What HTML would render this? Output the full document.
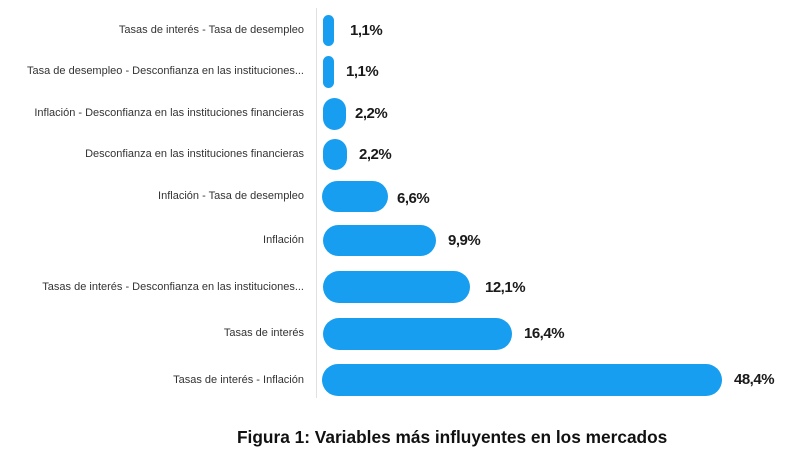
<!DOCTYPE html>
<html><head><meta charset="utf-8"><style>
body{margin:0;width:797px;height:462px;background:#fff;position:relative;overflow:hidden;font-family:"Liberation Sans",sans-serif}
.l{position:absolute;right:493px;font-size:11px;color:#333;white-space:nowrap;line-height:14px}
.b{position:absolute;background:#189ef0;border-radius:16px;height:32px}
.v{position:absolute;font-size:15px;font-weight:bold;color:#1a1a1a;line-height:18px;letter-spacing:-0.5px}
.ax{position:absolute;left:316px;top:8px;width:1px;height:390px;background:#e0e0e0}
.cap{position:absolute;left:237px;top:427px;font-size:17.3px;font-weight:bold;color:#111;white-space:nowrap}
</style></head><body>
<div class="ax"></div>
<div class="l" style="top:23px">Tasas de interés - Tasa de desempleo</div>
<div class="l" style="top:64px">Tasa de desempleo - Desconfianza en las instituciones...</div>
<div class="l" style="top:106px">Inflación - Desconfianza en las instituciones financieras</div>
<div class="l" style="top:147px">Desconfianza en las instituciones financieras</div>
<div class="l" style="top:189px">Inflación - Tasa de desempleo</div>
<div class="l" style="top:233px">Inflación</div>
<div class="l" style="top:280px">Tasas de interés - Desconfianza en las instituciones...</div>
<div class="l" style="top:326px">Tasas de interés</div>
<div class="l" style="top:373px">Tasas de interés - Inflación</div>

<div class="b" style="left:323px;top:15px;width:11px;height:31px;border-radius:6px"></div>
<div class="b" style="left:323px;top:56px;width:11px;border-radius:6px"></div>
<div class="b" style="left:323px;top:98px;width:23px;border-radius:12px"></div>
<div class="b" style="left:323px;top:139px;width:24px;height:31px;border-radius:12px"></div>
<div class="b" style="left:322px;top:181px;width:66px;height:31px"></div>
<div class="b" style="left:323px;top:225px;width:113px;height:31px"></div>
<div class="b" style="left:323px;top:271px;width:147px"></div>
<div class="b" style="left:323px;top:318px;width:189px"></div>
<div class="b" style="left:322px;top:364px;width:400px"></div>

<div class="v" style="left:350px;top:22px">1,1%</div>
<div class="v" style="left:346px;top:63px">1,1%</div>
<div class="v" style="left:355px;top:105px">2,2%</div>
<div class="v" style="left:359px;top:146px">2,2%</div>
<div class="v" style="left:397px;top:190px">6,6%</div>
<div class="v" style="left:448px;top:232px">9,9%</div>
<div class="v" style="left:485px;top:279px">12,1%</div>
<div class="v" style="left:524px;top:325px">16,4%</div>
<div class="v" style="left:734px;top:371px">48,4%</div>
<div class="cap">Figura 1: Variables más influyentes en los mercados</div>
</body></html>
